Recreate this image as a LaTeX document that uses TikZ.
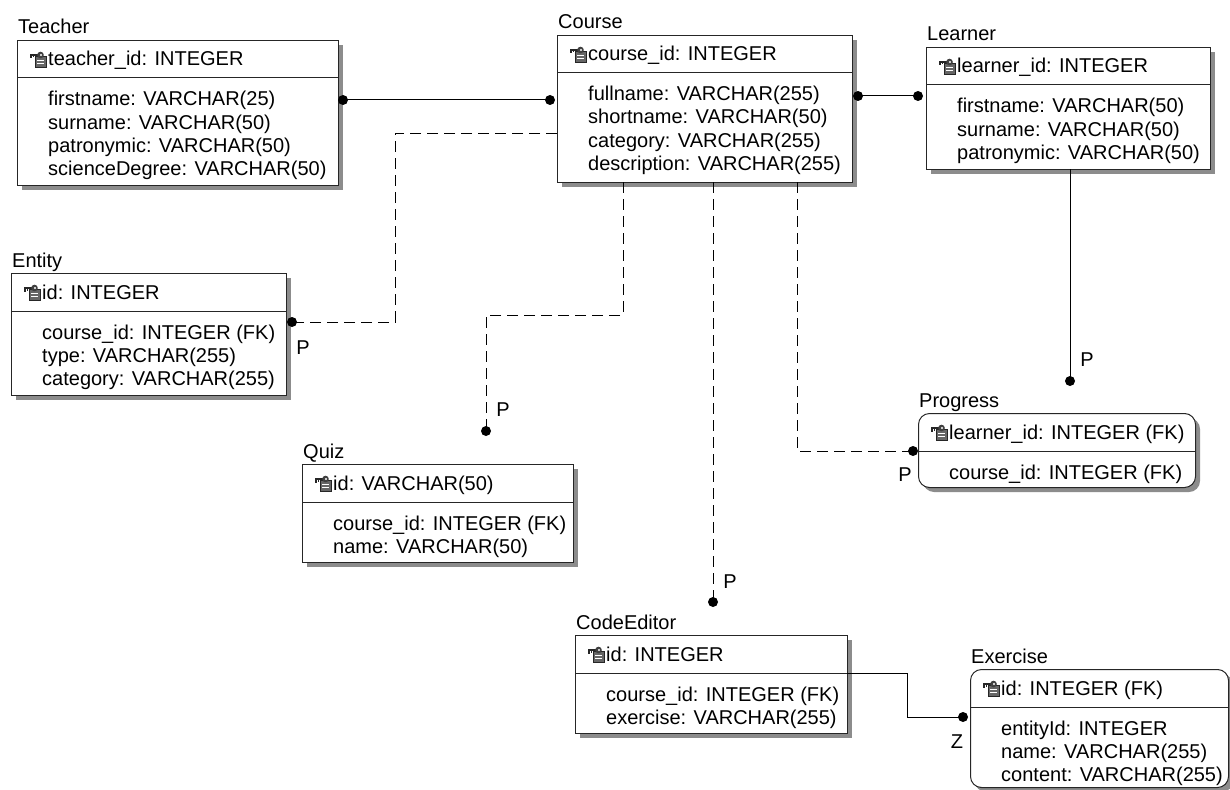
\documentclass[tikz,border=0pt]{standalone}
\usepackage{fontspec}
\setmainfont{Liberation Sans}

% small "primary key" glyph: a key over a little table sheet
\newcommand\keyicon[2]{%
  \begin{scope}[shift={(#1,#2)}]
    \fill[black!60] (5,4) rectangle (16,15);
    \draw[white, line width=0.9pt] (7,8) -- (14,8) (7,11.5) -- (14,11.5);
    \draw[black!85, line width=0.9pt] (5,4) rectangle (16,15);
    \draw[black!85, line width=1.8pt] (0,3) -- (8,3);
    \draw[black!85, line width=1.1pt] (1,3) -- (1,6.5) (3.5,3) -- (3.5,5.5);
    \fill[black!75] (10.5,3) circle (3.3);
    \fill[white] (11,3) circle (1.1);
  \end{scope}}

% [style] name, left, top, right, bottom, title, key column, other columns
\newcommand\ertable[9][]{%
  \fill[shadowfill,#1] (#3+5,#4+5) rectangle (#5+5,#6+5);
  \node[tablebox,#1,anchor=north west,minimum width={#5-#3},minimum height={#6-#4}] (#2) at (#3,#4) {};
  \draw[rowline] (#3,#4+38) -- (#5,#4+38);
  \node[anchor=base west] at (#3+1,#4-6) {#7};
  \keyicon{#3+13}{#4+12}
  \node[anchor=base west] at (#3+31,#4+26) {#8};
  \foreach \attrline [count=\k from 0] in {#9}
    \node[anchor=base west] at (#3+31,#4+66+23*\k) {\attrline};
}

\begin{document}
\begin{tikzpicture}[x=1pt,y=-1pt,
  every node/.style={inner sep=0pt, font=\fontsize{20}{23}\selectfont},
  tablebox/.style={draw=black!85, line width=1pt, fill=white},
  shadowfill/.style={fill=black!45},
  rowline/.style={draw=black!85, line width=1pt},
  rounded/.style={rounded corners=11pt},
  link/.style={draw=black, line width=1pt},
  optlink/.style={link, dash pattern=on 11pt off 6pt},
  enddot/.style={fill=black}]
\useasboundingbox (0,0) rectangle (1230,789);
\clip (0,0) rectangle (1230,789);
\fill[white] (0,0) rectangle (1230,789);

% tables
\ertable{teacher}{17}{40}{338}{185}{Teacher}{teacher\_id: INTEGER}
  {firstname: VARCHAR(25), surname: VARCHAR(50), patronymic: VARCHAR(50), scienceDegree: VARCHAR(50)}
\ertable{course}{557}{35}{852}{182}{Course}{course\_id: INTEGER}
  {fullname: VARCHAR(255), shortname: VARCHAR(50), category: VARCHAR(255), description: VARCHAR(255)}
\ertable{learner}{926}{47}{1210}{169}{Learner}{learner\_id: INTEGER}
  {firstname: VARCHAR(50), surname: VARCHAR(50), patronymic: VARCHAR(50)}
\ertable{entity}{11}{273}{286}{395}{Entity}{id: INTEGER}
  {course\_id: INTEGER (FK), type: VARCHAR(255), category: VARCHAR(255)}
\ertable{quiz}{302}{464}{573}{562}{Quiz}{id: VARCHAR(50)}
  {course\_id: INTEGER (FK), name: VARCHAR(50)}
\ertable[rounded]{progress}{918}{413}{1195}{487}{Progress}{learner\_id: INTEGER (FK)}
  {course\_id: INTEGER (FK)}
\ertable{codeeditor}{575}{635}{847}{733}{CodeEditor}{id: INTEGER}
  {course\_id: INTEGER (FK), exercise: VARCHAR(255)}
\ertable[rounded]{exercise}{970}{669}{1228}{787}{Exercise}{id: INTEGER (FK)}
  {entityId: INTEGER, name: VARCHAR(255), content: VARCHAR(255)}

% connector end points
\coordinate (tcA) at (343,100);
\coordinate (tcB) at (550,100);
\coordinate (clA) at (858,96);
\coordinate (clB) at (918,96);
\coordinate (ceA) at (557,133);
\coordinate (ceB) at (292,322);
\coordinate (cqA) at (623,182);
\coordinate (cqB) at (486,431);
\coordinate (ccA) at (713,182);
\coordinate (ccB) at (713,602);
\coordinate (cpA) at (797,182);
\coordinate (cpB) at (913,451);
\coordinate (lpA) at (1070,169);
\coordinate (lpB) at (1070,381);
\coordinate (xeA) at (847,673);
\coordinate (xeB) at (963,717);

% identifying / non-identifying relationships
\draw[link] (tcA) -- (tcB);
\draw[link] (clA) -- (clB);
\draw[optlink] (ceA) -- (395,133) -- (395,322) -- (ceB);
\draw[optlink] (cqA) -- (623,315) -- (486,315) -- (cqB);
\draw[optlink] (ccA) -- (ccB);
\draw[optlink] (cpA) -- (797,451) -- (cpB);
\draw[link] (lpA) -- (lpB);
\draw[link] (xeA) -- (907,673) -- (907,717) -- (xeB);

\foreach \p in {tcA,tcB,clA,clB,ceB,cqB,ccB,cpB,lpB,xeB}
  \fill[enddot] (\p) circle (5);

% cardinality marks
\node at (303,348) {P};
\node at (503,410) {P};
\node at (730,582) {P};
\node at (905,475) {P};
\node at (1087,360) {P};
\node at (957,742) {Z};
\end{tikzpicture}
\end{document}
